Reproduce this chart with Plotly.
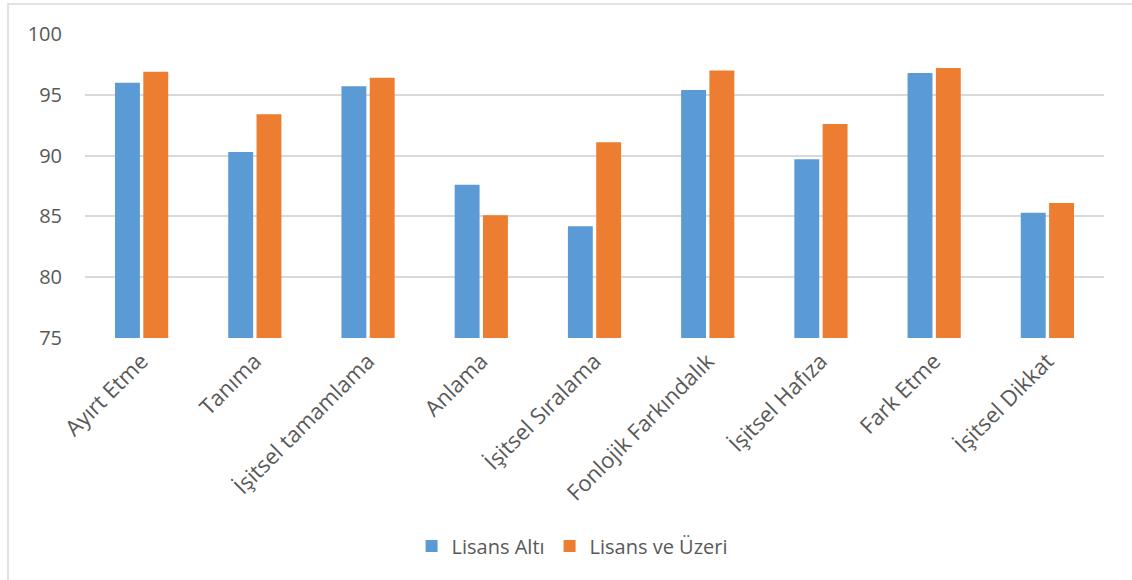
import plotly.graph_objects as go

categories = ["Ayırt Etme", "Tanıma", "İşitsel tamamlama", "Anlama", "İşitsel Sıralama",
              "Fonlojik Farkındalık", "İşitsel Hafıza", "Fark Etme", "İşitsel Dikkat"]
lisans_alti = [96.0, 90.3, 95.7, 87.6, 84.2, 95.4, 89.7, 96.8, 85.3]
lisans_ve_uzeri = [96.9, 93.4, 96.4, 85.1, 91.1, 97.0, 92.6, 97.2, 86.1]
y_ticks = [75, 80, 85, 90, 95, 100]

FONT = "Open Sans"
TXT = "#595959"

fig = go.Figure()
fig.add_trace(go.Bar(x=categories, y=lisans_alti, name="Lisans Altı",
                     marker=dict(color="#5B9BD5", line=dict(width=0))))
fig.add_trace(go.Bar(x=categories, y=lisans_ve_uzeri, name="Lisans ve Üzeri",
                     marker=dict(color="#ED7D31", line=dict(width=0))))

fig.update_layout(
    width=1132, height=580,
    margin=dict(l=85, r=28, t=34, b=242),
    paper_bgcolor="white", plot_bgcolor="white",
    barmode="group", bargap=0.5, bargroupgap=0.12,
    font=dict(family=FONT, color=TXT, size=16),
    legend=dict(orientation="h", x=0.478, xanchor="center", y=-0.684, yanchor="middle",
                font=dict(size=20, color=TXT), itemwidth=30, tracegroupgap=0),
    showlegend=True,
    xaxis=dict(tickangle=-45, tickfont=dict(size=22, color=TXT), showgrid=False,
               showline=False, ticks="", ticklabelstandoff=5),
    yaxis=dict(range=[75, 100], tickvals=y_ticks, tickfont=dict(size=20, color=TXT),
               showgrid=True, gridcolor="#D9D9D9", gridwidth=1.5, zeroline=False,
               showline=False, ticks="", ticklabelstandoff=22),
    shapes=[dict(type="rect", xref="paper", yref="paper",
                 x0=(8 - 85) / 1019, x1=1.2, y0=-1.0, y1=(338 - 4) / 304,
                 line=dict(color="#D9D9D9", width=1.5), fillcolor="rgba(0,0,0,0)",
                 layer="below")],
)

fig.write_html("out.html")
